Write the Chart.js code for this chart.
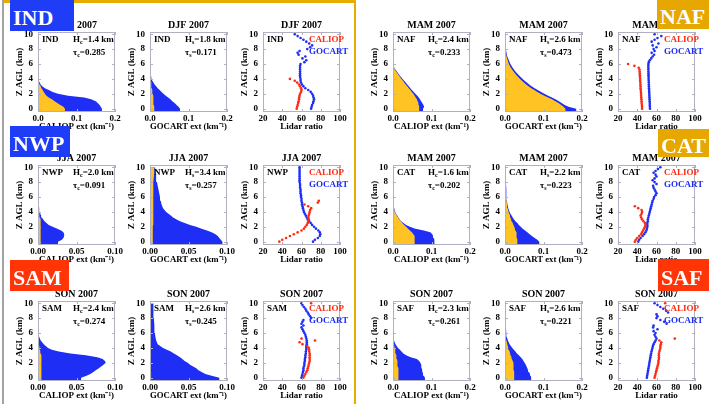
<!DOCTYPE html>
<html lang="en">
<head>
<meta charset="UTF-8">
<title>CALIOP vs GOCART dust profiles 2007</title>
<script src="https://cdn.jsdelivr.net/npm/chart.js"></script>
<style>
  body { margin: 0; width: 709px; height: 404px; position: relative; overflow: hidden; background: #fff; }
  canvas { position: absolute; }
  .rule { position: absolute; }
  .tag { position: absolute; color: #fff; font: bold 22px "Liberation Serif", serif; padding-left: 3px; box-sizing: border-box; z-index: 5; }
</style>
</head>
<body>
<div class="rule" style="left:2px;top:0;width:2px;height:404px;background:#a3a3a3"></div>
<div class="rule" style="left:4px;top:0;width:352px;height:3px;background:#e6ad00"></div>
<div class="rule" style="left:354px;top:0;width:2px;height:404px;background:#e6ad00"></div>
<div id="panels"></div>
<div class="tag" style="left:10px;top:0;width:64px;height:31px;line-height:36px;background:#1f3cf6">IND</div>
<div class="tag" style="left:10px;top:126px;width:60px;height:31px;line-height:36px;background:#1f3cf6">NWP</div>
<div class="tag" style="left:10px;top:260px;width:59px;height:31px;line-height:36px;background:#ff3508">SAM</div>
<div class="tag" style="left:657px;top:0;width:52px;height:29px;line-height:34px;background:#e6a800">NAF</div>
<div class="tag" style="left:658px;top:129px;width:51px;height:28px;line-height:33px;background:#e6a800">CAT</div>
<div class="tag" style="left:658px;top:259px;width:51px;height:32px;line-height:37px;background:#ff3508">SAF</div>
<script>
// ---- data ----
const REGIONS = ['IND', 'NAF', 'NWP', 'CAT', 'SAM', 'SAF'];
const SEASONS = ['DJF 2007', 'MAM 2007', 'JJA 2007', 'MAM 2007', 'SON 2007', 'SON 2007'];
const H_CALIOP = ['1.4', '2.4', '2.0', '1.6', '2.4', '2.3'];
const TAU_CALIOP = ['0.285', '0.233', '0.091', '0.202', '0.274', '0.261'];
const H_GOCART = ['1.8', '2.6', '3.4', '2.2', '2.6', '2.6'];
const TAU_GOCART = ['0.171', '0.473', '0.257', '0.223', '0.245', '0.221'];
const EXT_MAX = [0.2, 0.2, 0.1, 0.2, 0.1, 0.2];

const Z_TICKS = [0, 2, 4, 6, 8, 10];
const EXT_TICKS_02 = [0, 0.1, 0.2];
const EXT_LABELS_02 = ['0.0', '0.1', '0.2'];
const EXT_TICKS_01 = [0, 0.05, 0.1];
const EXT_LABELS_01 = ['0.00', '0.05', '0.10'];
const LR_TICKS = [20, 40, 60, 80, 100];
const LR_LABELS = ['20', '40', '60', '80', '100'];

// altitude (km) of extinction profile levels
const Z_EXT = [-0.4, 0, 0.25, 0.5, 0.75, 1, 1.25, 1.5, 1.75, 2, 2.25, 2.5, 2.75, 3, 3.25, 3.5, 3.75, 4, 4.5, 5, 5.5, 6, 7, 8, 9, 10];
// total (blue) and dust (gold) extinction, km-1
const IND_CAL_TOT = [0.166,0.166,0.163,0.160,0.155,0.150,0.138,0.120,0.078,0.052,0.038,0.028,0.018,0.011,0.007,0.004,0.0025,0.0015,0.001,0.001,0.001,0.001,0.001,0.0009,0.0008,0.0008];
const IND_CAL_DUST = [0.070,0.070,0.066,0.058,0.050,0.043,0.036,0.028,0.022,0.018,0.015,0.012,0.009,0.007,0.005,0.003,0.0015,0.0008,0,0,0,0,0,0,0,0];
const IND_GOC_TOT = [0.078,0.078,0.074,0.069,0.064,0.058,0.053,0.047,0.041,0.035,0.030,0.025,0.020,0.016,0.012,0.009,0.006,0.004,0.0025,0.0018,0.0014,0.0012,0.001,0.001,0.0009,0.0008];
const IND_GOC_DUST = [0.011,0.011,0.011,0.010,0.010,0.009,0.009,0.008,0.008,0.007,0.006,0.006,0.005,0.004,0.0035,0.003,0.002,0.0015,0.001,0.0005,0,0,0,0,0,0];
const NAF_CAL_TOT = [0.078,0.078,0.081,0.079,0.076,0.073,0.070,0.067,0.063,0.058,0.054,0.049,0.045,0.041,0.037,0.033,0.029,0.025,0.017,0.010,0.003,0.001,0.0008,0.0007,0.0006,0.0006];
const NAF_CAL_DUST = [0.068,0.068,0.068,0.067,0.066,0.064,0.062,0.059,0.056,0.053,0.049,0.045,0.041,0.037,0.033,0.029,0.026,0.022,0.015,0.008,0.002,0,0,0,0,0];
const NAF_GOC_TOT = [0.185,0.185,0.165,0.155,0.147,0.140,0.131,0.122,0.112,0.102,0.094,0.085,0.077,0.069,0.063,0.057,0.051,0.046,0.036,0.027,0.020,0.014,0.006,0.002,0.0012,0.001];
const NAF_GOC_DUST = [0.157,0.157,0.152,0.146,0.139,0.131,0.122,0.112,0.102,0.092,0.084,0.076,0.068,0.061,0.055,0.049,0.044,0.039,0.030,0.022,0.015,0.010,0.004,0.001,0,0];
const NWP_CAL_TOT = [0.026,0.026,0.031,0.033,0.034,0.034,0.033,0.030,0.025,0.019,0.014,0.011,0.0085,0.0066,0.005,0.004,0.003,0.0022,0.0016,0.0011,0.0006,0.0002,0,0,0,0];
const NWP_CAL_DUST = [0.0038,0.0038,0.0038,0.0038,0.0038,0.0038,0.0037,0.0036,0.0035,0.0034,0.0032,0.003,0.0028,0.0026,0.0023,0.002,0.0016,0.0012,0.0005,0,0,0,0,0,0,0];
const NWP_GOC_TOT = [0.094,0.094,0.092,0.090,0.088,0.085,0.080,0.074,0.067,0.060,0.052,0.045,0.039,0.034,0.030,0.027,0.024,0.021,0.017,0.015,0.014,0.013,0.011,0.009,0.008,0.0065];
const NWP_GOC_DUST = [0.0035,0.0035,0.0035,0.0035,0.0036,0.0036,0.0037,0.0037,0.0038,0.0038,0.0039,0.0039,0.004,0.004,0.0041,0.0041,0.0042,0.0042,0.0043,0.0044,0.0045,0.0046,0.0048,0.005,0.0052,0.0055];
const CAT_CAL_TOT = [0.108,0.108,0.107,0.106,0.104,0.102,0.097,0.080,0.058,0.044,0.034,0.027,0.021,0.017,0.014,0.011,0.008,0.006,0.0032,0.0012,0.0006,0.0005,0.0004,0.0004,0.0003,0.0003];
const CAT_CAL_DUST = [0.057,0.057,0.057,0.056,0.055,0.053,0.049,0.044,0.039,0.034,0.029,0.024,0.020,0.016,0.013,0.010,0.007,0.005,0.0025,0.001,0,0,0,0,0,0];
const CAT_GOC_TOT = [0.089,0.089,0.084,0.077,0.070,0.064,0.058,0.052,0.046,0.041,0.036,0.032,0.027,0.023,0.020,0.017,0.014,0.012,0.0085,0.0065,0.005,0.004,0.003,0.0024,0.002,0.0017];
const CAT_GOC_DUST = [0.032,0.032,0.032,0.031,0.031,0.030,0.029,0.027,0.026,0.024,0.022,0.020,0.018,0.016,0.014,0.013,0.011,0.0095,0.007,0.0055,0.004,0.003,0.001,0.0004,0,0];
const SAM_CAL_TOT = [0.056,0.056,0.063,0.068,0.072,0.075,0.079,0.082,0.085,0.088,0.087,0.084,0.077,0.062,0.042,0.027,0.018,0.013,0.0075,0.0035,0.0015,0.0006,0.0004,0.0003,0.0003,0.0003];
const SAM_CAL_DUST = [0.0045,0.0045,0.0045,0.0045,0.0045,0.0045,0.0045,0.0045,0.0045,0.0045,0.0045,0.0045,0.0042,0.004,0.0036,0.003,0.0025,0.002,0.0012,0.0004,0,0,0,0,0,0];
const SAM_GOC_TOT = [0.090,0.090,0.080,0.072,0.067,0.063,0.060,0.056,0.052,0.049,0.045,0.042,0.039,0.035,0.031,0.027,0.022,0.017,0.010,0.008,0.007,0.0064,0.0057,0.005,0.0046,0.0043];
const SAM_GOC_DUST = [0.0015,0.0015,0.0015,0.0014,0.0013,0.0012,0.0011,0.001,0.001,0.001,0.0009,0.0009,0.0008,0.0008,0.0007,0.0007,0.0006,0.0006,0.0004,0.0003,0.0002,0.0002,0.0002,0.0002,0.0002,0.0002];
const SAF_CAL_TOT = [0.083,0.083,0.080,0.078,0.077,0.076,0.075,0.074,0.073,0.071,0.068,0.062,0.046,0.034,0.027,0.022,0.018,0.013,0.0065,0.0025,0.001,0.0008,0.0007,0.0006,0.0006,0.0006];
const SAF_CAL_DUST = [0.015,0.015,0.015,0.0145,0.014,0.0135,0.013,0.0125,0.012,0.0115,0.011,0.010,0.0092,0.0083,0.0074,0.0064,0.0054,0.0045,0.0025,0.001,0.0003,0,0,0,0,0];
const SAF_GOC_TOT = [0.068,0.068,0.067,0.065,0.062,0.060,0.058,0.056,0.054,0.051,0.048,0.045,0.041,0.036,0.031,0.027,0.023,0.019,0.012,0.0075,0.0045,0.0034,0.0022,0.0016,0.0012,0.001];
const SAF_GOC_DUST = [0.024,0.024,0.024,0.024,0.0235,0.023,0.023,0.0225,0.022,0.021,0.020,0.018,0.017,0.015,0.0135,0.012,0.010,0.0085,0.006,0.004,0.0026,0.0018,0.0008,0.0003,0,0];

// altitude (km) of lidar ratio levels
const Z_LR = [0,0.25,0.5,0.75,1,1.25,1.5,1.75,2,2.25,2.5,2.75,3,3.25,3.5,3.75,4,4.25,4.5,4.75,5,5.25,5.5,5.75,6,6.25,6.5,6.75,7,7.25,7.5,7.75,8,8.25,8.5,8.75,9,9.25,9.5,9.75,10];
const IND_LR_CAL = [55,55.5,56,56.5, 57,57.5,57.5,58, 58.5,59.5,60,59.5, 58.5,57.5,55.5,53, 48,null,null,null, null,null,null,null, null,null,null,null, null,null,null,null, null,null,null,null, null,null,null,null, null];
const IND_LR_GOC = [70,70.5,71,72, 72.5,73,72.5,72, 71,69.5,67,64, 62,60.5,59.5,59, 59,58.5,58.5,58.5, 58.5,58.5,58.5,58.5, 59,63,65,61, 64,57,56,58, 66,69,71,68, 65,62,59,56, 53];
const NAF_LR_CAL = [45,45,44.8,44.6, 44.5,44.3,44.2,44, 44,43.8,43.6,43.5, 43.4,43.3,43.2,43, 43,42.8,42.7,42.6, 42.5,42.3,41.5,37, 30.5,null,null,null, null,null,null,null, null,null,null,null, null,null,null,null, null];
const NAF_LR_GOC = [53.2,53.1,53,53, 52.9,52.8,52.7,52.6, 52.5,52.4,52.3,52.2, 52.1,52,52,51.9, 51.8,51.8,51.7,51.7, 51.6,51.6,51.5,51.5, 51.6,52,53,54.5, 56,57.5,55,58, 57,60,56,62, 55,58,61,65, 58];
const NWP_LR_CAL = [37,40,44,48, 52,56,60,62.5, 64,65.5,66.5,67, 67.5,67,67.5,68, 68.5,69,70,67, 63,77,78,null, null,null,null,null, null,null,null,null, null,null,null,null, null,null,null,null, null];
const NWP_LR_GOC = [72,74,77,79, 79.5,79,77.5,75, 73,71,69.5,68, 66.5,65.5,64.5,63.5, 62.5,62,61.5,61, 60.5,60.5,60,60, 59.5,59.5,59,59, 59,58.5,58.5,58.5, 58,58,58,58, 58,58,58,58, 58];
const CAT_LR_CAL = [37.5,38.5,40,42, 44,45,46,47, 48,48.5,48,46.5, 45,44,43.5,44.5, 45,44.5,41,37.5, null,null,null,null, null,null,null,null, null,null,null,null, null,null,null,null, null,null,null,null, null];
const CAT_LR_GOC = [41,42,43.5,45.5, 47,48.5,49.5,50, 50.5,50.5,50.5,51, 51,51.5,52,52.5, 53,53.5,54,54.5, 55,55.5,56,57, 57.5,59,60,59, 58,57,56.5,60, 58,56,58,60, 59,57,59,61.5, 64];
const SAM_LR_CAL = [62,63,64,65, 66,66.5,67,67.5, 68,68.5,68.5,68.5, 68.5,68.5,68,68, 67.5,66,61,58, 74,60,null,null, null,null,null,null, null,null,null,null, null,null,null,null, null,null,null,null, 70];
const SAM_LR_GOC = [60,60.5,61,61.5, 62,62,62.5,63, 63,63.5,63.5,64, 64,64.5,64.5,65, 65,65,65.5,65.5, 65.5,65,64.5,64, 63,62,61,60, 62,60,61,62, 70,69,67.5,66.5, 65,64,62.5,61, 60];
const SAF_LR_CAL = [58,58.5,59,59.5, 60,60.5,61,61.5, 62,62,62.5,62.5, 62.5,62.5,63,63.5, 64,64,64.5,65, 63,79,null,null, null,null,null,null, null,null,null,null, null,null,null,null, null,null,null,null, 69];
const SAF_LR_GOC = [50,50.3,50.6,51, 51.3,51.6,52,52.3, 52.6,53,53.3,53.6, 54,54.4,54.8,55.3, 55.8,56.3,57,58, 59,60,59,58, 59,57,61,56.5, 57,70.5,68,64, 60,61,60,72, 70,67,64,61, 58];

const PROFILES = {
  IND: {cal: [IND_CAL_TOT, IND_CAL_DUST], goc: [IND_GOC_TOT, IND_GOC_DUST], lr: [IND_LR_CAL, IND_LR_GOC]},
  NAF: {cal: [NAF_CAL_TOT, NAF_CAL_DUST], goc: [NAF_GOC_TOT, NAF_GOC_DUST], lr: [NAF_LR_CAL, NAF_LR_GOC]},
  NWP: {cal: [NWP_CAL_TOT, NWP_CAL_DUST], goc: [NWP_GOC_TOT, NWP_GOC_DUST], lr: [NWP_LR_CAL, NWP_LR_GOC]},
  CAT: {cal: [CAT_CAL_TOT, CAT_CAL_DUST], goc: [CAT_GOC_TOT, CAT_GOC_DUST], lr: [CAT_LR_CAL, CAT_LR_GOC]},
  SAM: {cal: [SAM_CAL_TOT, SAM_CAL_DUST], goc: [SAM_GOC_TOT, SAM_GOC_DUST], lr: [SAM_LR_CAL, SAM_LR_GOC]},
  SAF: {cal: [SAF_CAL_TOT, SAF_CAL_DUST], goc: [SAF_GOC_TOT, SAF_GOC_DUST], lr: [SAF_LR_CAL, SAF_LR_GOC]}
};

// ---- layout / style ----
const FONT = '"Liberation Serif", "Times New Roman", serif';
const BLUE = '#1e2ef5';
const GOLD = '#ffc423';
const RED = '#ff2a12';
const FRAME = '#b0b0c0';
const COL_LEFT = [38, 150, 263, 393, 505, 618]; // left edge of each plot box
const ROW_TOP = [32, 165, 301];
const AXIS_W = 38, PAD_TOP = 16, PAD_RIGHT = 12, PLOT_W = 77, PLOT_H = 80, XAXIS_H = 22;
const Z_MIN = -0.45, Z_MAX = 10.3;

const font = (size) => ({family: FONT, size: size, weight: 'bold'});

function yScale() {
  return {
    type: 'linear', min: Z_MIN, max: Z_MAX,
    afterBuildTicks: s => { s.ticks = Z_TICKS.map(v => ({value: v})); },
    afterFit: s => { s.width = AXIS_W; },
    grid: {display: false, drawTicks: false}, border: {display: false},
    ticks: {color: '#000', padding: 5, font: font(9), callback: v => String(v)},
    title: {display: true, text: 'Z AGL (km)', color: '#000', font: font(9), padding: {top: 14, bottom: 0}}
  };
}

function xScale(min, max, ticks, labels, title) {
  return {
    type: 'linear', min: min, max: max,
    afterBuildTicks: s => { s.ticks = ticks.map(v => ({value: v})); },
    afterFit: s => { s.height = XAXIS_H; },
    grid: {display: false, drawTicks: false}, border: {display: false},
    ticks: {color: '#000', padding: 1, maxRotation: 0, autoSkip: false, font: font(9), callback: (v, i) => labels[i]},
    title: {display: true, text: title, color: '#000', font: font(9), padding: {top: 0, bottom: 2}}
  };
}

// text with a subscript, e.g. H_c=1.4 km
function subText(ctx, x, y, main, sub, rest) {
  ctx.font = 'bold 9px ' + FONT;
  ctx.fillText(main, x, y);
  x += ctx.measureText(main).width;
  ctx.font = 'bold 6px ' + FONT;
  ctx.fillText(sub, x, y + 2);
  x += ctx.measureText(sub).width;
  ctx.font = 'bold 9px ' + FONT;
  ctx.fillText(rest, x, y);
}

function decor(r, kind) {
  return {
    id: 'decor',
    afterDraw(chart) {
      const {ctx, chartArea: a, scales} = chart;
      ctx.save();
      ctx.strokeStyle = FRAME;
      ctx.lineWidth = 1;
      ctx.strokeRect(Math.round(a.left) + 0.5, Math.round(a.top) + 0.5, Math.round(a.right - a.left) - 1, Math.round(a.bottom - a.top) - 1);
      ctx.beginPath();
      scales.y.ticks.forEach(t => {
        const py = Math.round(scales.y.getPixelForValue(t.value)) + 0.5;
        ctx.moveTo(a.left, py); ctx.lineTo(a.left + 3, py);
        ctx.moveTo(a.right, py); ctx.lineTo(a.right - 3, py);
      });
      scales.x.ticks.forEach(t => {
        const px = Math.round(scales.x.getPixelForValue(t.value)) + 0.5;
        ctx.moveTo(px, a.bottom); ctx.lineTo(px, a.bottom - 3);
        ctx.moveTo(px, a.top); ctx.lineTo(px, a.top + 3);
      });
      ctx.stroke();

      ctx.fillStyle = '#000';
      ctx.textBaseline = 'middle';
      ctx.textAlign = 'center';
      ctx.font = 'bold 10px ' + FONT;
      ctx.fillText(SEASONS[r], (a.left + a.right) / 2, a.top - 7);

      ctx.textAlign = 'left';
      ctx.font = 'bold 9px ' + FONT;
      ctx.fillText(REGIONS[r], a.left + 4, a.top + 8);
      if (kind === 'lr') {
        ctx.fillStyle = RED;
        ctx.fillText('CALIOP', a.left + 46, a.top + 8);
        ctx.fillStyle = BLUE;
        ctx.fillText('GOCART', a.left + 46, a.top + 20);
      } else {
        const s = kind === 'cal' ? 'c' : 's';
        const h = kind === 'cal' ? H_CALIOP[r] : H_GOCART[r];
        const tau = kind === 'cal' ? TAU_CALIOP[r] : TAU_GOCART[r];
        subText(ctx, a.left + 35, a.top + 8, 'H', s, '=' + h + ' km');
        subText(ctx, a.left + 35, a.top + 21, 'τ', s, '=' + tau);
      }
      ctx.restore();
    }
  };
}

const baseOptions = (scales) => ({
  responsive: false, animation: false, events: [],
  layout: {padding: {top: PAD_TOP, right: PAD_RIGHT, left: 0, bottom: 0}},
  plugins: {legend: {display: false}, tooltip: {enabled: false}},
  scales: scales
});

function extConfig(r, kind) {
  const [total, dust] = PROFILES[REGIONS[r]][kind];
  const max = EXT_MAX[r];
  const ticks = max === 0.2 ? EXT_TICKS_02 : EXT_TICKS_01;
  const labels = max === 0.2 ? EXT_LABELS_02 : EXT_LABELS_01;
  const title = (kind === 'cal' ? 'CALIOP' : 'GOCART') + ' ext (km⁻¹)';
  const opts = baseOptions({x: xScale(0, max, ticks, labels, title), y: yScale()});
  opts.indexAxis = 'y';
  return {
    type: 'line',
    data: {datasets: [
      {data: Z_EXT.map((z, i) => ({x: dust[i], y: z})), backgroundColor: GOLD, fill: 'origin', borderWidth: 0, pointRadius: 0},
      {data: Z_EXT.map((z, i) => ({x: total[i], y: z})), backgroundColor: BLUE, fill: 'origin', borderWidth: 0, pointRadius: 0}
    ]},
    options: opts,
    plugins: [decor(r, kind)]
  };
}

function lrConfig(r) {
  const [cal, goc] = PROFILES[REGIONS[r]].lr;
  const pts = vals => Z_LR.map((z, i) => vals[i] == null ? null : {x: vals[i], y: z}).filter(p => p);
  return {
    type: 'scatter',
    data: {datasets: [
      {data: pts(cal), pointRadius: 1.3, pointBackgroundColor: RED, pointBorderWidth: 0},
      {data: pts(goc), pointRadius: 1.3, pointBackgroundColor: BLUE, pointBorderWidth: 0}
    ]},
    options: baseOptions({x: xScale(20, 100, LR_TICKS, LR_LABELS, 'Lidar ratio'), y: yScale()}),
    plugins: [decor(r, 'lr')]
  };
}

const holder = document.getElementById('panels');
REGIONS.forEach((reg, r) => {
  const row = Math.floor(r / 2), half = r % 2;
  ['cal', 'goc', 'lr'].forEach((kind, c) => {
    const cv = document.createElement('canvas');
    cv.width = AXIS_W + PLOT_W + PAD_RIGHT;
    cv.height = PAD_TOP + PLOT_H + XAXIS_H;
    cv.style.left = (COL_LEFT[half * 3 + c] - AXIS_W) + 'px';
    cv.style.top = (ROW_TOP[row] - PAD_TOP) + 'px';
    holder.appendChild(cv);
    new Chart(cv, kind === 'lr' ? lrConfig(r) : extConfig(r, kind));
  });
});
</script>
</body>
</html>
